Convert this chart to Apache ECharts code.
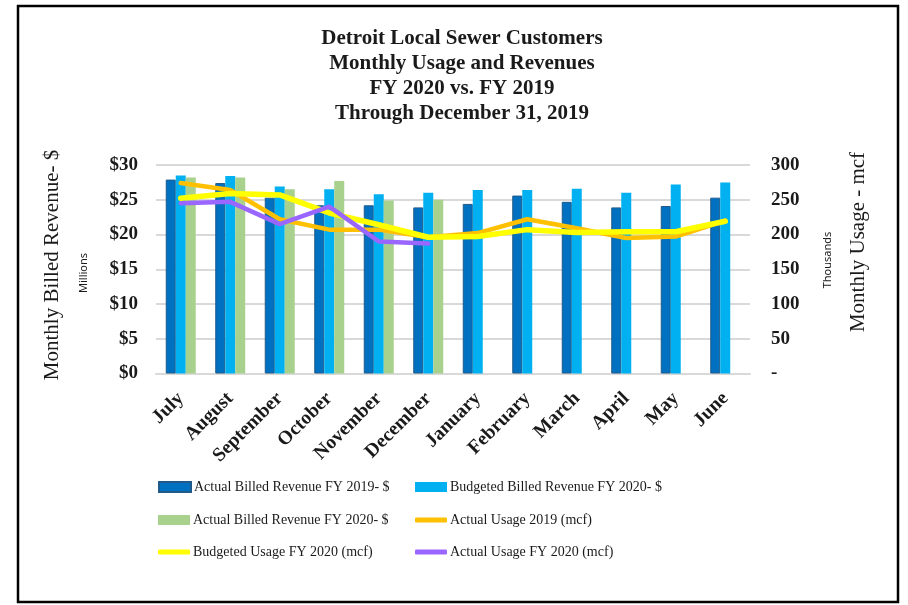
<!DOCTYPE html>
<html>
<head>
<meta charset="utf-8">
<script src="https://cdn.jsdelivr.net/npm/echarts@6/dist/echarts.min.js"></script>
<style>
  html, body { margin: 0; padding: 0; background: #fff; }
  #chart { width: 908px; height: 605px; }
</style>
</head>
<body>
<div id="chart"></div>
<script>
// 月份（财年 7 月起）
const months = ['July', 'August', 'September', 'October', 'November', 'December',
  'January', 'February', 'March', 'April', 'May', 'June']

// 收入，单位：百万美元
const actualRevenue2019 = [27.9, 27.4, 25.3, 24.2, 24.2, 23.9, 24.4, 25.6, 24.7, 23.9, 24.1, 25.3]
const budgetRevenue2020 = [28.5, 28.4, 26.9, 26.5, 25.8, 26.0, 26.4, 26.4, 26.6, 26.0, 27.2, 27.5]
const actualRevenue2020 = [28.2, 28.2, 26.5, 27.7, 24.9, 25.0, null, null, null, null, null, null]

// 用量，单位：千 mcf
const actualUsage2019 = [274, 264, 222, 207, 207, 196, 202, 222, 209, 195, 197, 220]
const budgetUsage2020 = [252, 259, 257, 231, 214, 196, 197, 207, 203, 204, 204, 219]
const actualUsage2020 = [245, 247, 215, 240, 190, 187, null, null, null, null, null, null]

// 刻度
const revenueTicks = { min: 0, max: 30, interval: 5 }
const usageTicks = { min: 0, max: 300, interval: 50 }

const serif = '"Liberation Serif", "DejaVu Serif", serif'
const ink = '#1a1a1a'

const names = [
  'Actual Billed Revenue FY 2019- $',
  'Budgeted Billed Revenue FY 2020- $',
  'Actual Billed Revenue FY 2020- $',
  'Actual Usage 2019 (mcf)',
  'Budgeted Usage FY 2020 (mcf)',
  'Actual Usage FY 2020 (mcf)'
]

// 每个图例单独定位，排成两列三行
const legendSlots = [
  { left: 153, top: 475 }, { left: 410, top: 475 },
  { left: 153, top: 508 }, { left: 410, top: 508 },
  { left: 153, top: 540 }, { left: 410, top: 540 }
]
const legends = names.map((name, i) => ({
  data: [name],
  left: legendSlots[i].left,
  top: legendSlots[i].top,
  icon: i < 3 ? 'rect' : 'roundRect',
  itemWidth: 32,
  itemHeight: i < 3 ? 10 : 5,
  itemGap: 0,
  selectedMode: false,
  textStyle: { fontFamily: serif, fontSize: 14, color: ink, padding: [0, 0, 0, -2] }
}))

const barSeries = (name, data, color, border) => ({
  name,
  type: 'bar',
  data,
  barWidth: 10,
  barGap: '0%',
  itemStyle: { color, borderColor: border || color, borderWidth: border ? 1 : 0 },
  emphasis: { disabled: true }
})

const lineSeries = (name, data, color, width) => ({
  name,
  type: 'line',
  yAxisIndex: 1,
  data,
  symbol: 'none',
  connectNulls: false,
  lineStyle: { color, width, cap: 'round', join: 'round' },
  itemStyle: { color },
  z: 3
})

const option = {
  animation: false,
  backgroundColor: '#fff',
  title: {
    text: 'Detroit Local Sewer Customers\nMonthly Usage and Revenues\nFY 2020 vs. FY 2019\nThrough December 31, 2019',
    left: 457,
    top: 21,
    textAlign: 'center',
    textStyle: { fontFamily: serif, fontWeight: 'bold', fontSize: 21, lineHeight: 25, color: ink }
  },
  legend: legends,
  grid: { left: 156, right: 158, top: 165, bottom: 231.5 },
  xAxis: {
    type: 'category',
    data: months,
    axisLine: { lineStyle: { color: '#d9d9d9', width: 2 } },
    axisTick: { show: false },
    axisLabel: {
      rotate: 45,
      interval: 0,
      margin: 22,
      fontFamily: serif,
      fontWeight: 'bold',
      fontSize: 19.5,
      color: ink
    }
  },
  yAxis: [
    {
      type: 'value',
      ...revenueTicks,
      axisLine: { show: false },
      axisTick: { show: false },
      splitLine: { lineStyle: { color: '#d9d9d9', width: 2 } },
      axisLabel: {
        margin: 18,
        fontFamily: serif,
        fontWeight: 'bold',
        fontSize: 19,
        color: ink,
        formatter: v => '$' + v
      }
    },
    {
      type: 'value',
      ...usageTicks,
      axisLine: { show: false },
      axisTick: { show: false },
      splitLine: { show: false },
      axisLabel: {
        margin: 21,
        fontFamily: serif,
        fontWeight: 'bold',
        fontSize: 19,
        color: ink,
        formatter: v => (v === 0 ? '-' : String(v))
      }
    }
  ],
  series: [
    barSeries(names[0], actualRevenue2019, '#0070c0', '#1f5a8a'),
    barSeries(names[1], budgetRevenue2020, '#00b0f0'),
    barSeries(names[2], actualRevenue2020, '#a9d18e'),
    lineSeries(names[3], actualUsage2019, '#ffc000', 4.5),
    lineSeries(names[4], budgetUsage2020, '#ffff00', 5.5),
    lineSeries(names[5], actualUsage2020, '#9966ff', 4.5)
  ],
  graphic: [
    {
      type: 'rect',
      shape: { x: 18, y: 6, width: 880, height: 596 },
      style: { fill: 'none', stroke: '#000', lineWidth: 2.5 },
      silent: true
    },
    {
      type: 'text',
      x: 52, y: 265, rotation: Math.PI / 2,
      style: { text: 'Monthly Billed Revenue- $', font: '21px ' + serif, fill: ink, align: 'center', verticalAlign: 'middle' }
    },
    {
      type: 'text',
      x: 84, y: 273, rotation: Math.PI / 2,
      style: { text: 'Millions', font: '11px "Noto Sans", sans-serif', fill: ink, align: 'center', verticalAlign: 'middle' }
    },
    {
      type: 'text',
      x: 828, y: 260, rotation: Math.PI / 2,
      style: { text: 'Thousands', font: '11px "Noto Sans", sans-serif', fill: ink, align: 'center', verticalAlign: 'middle' }
    },
    {
      type: 'text',
      x: 858, y: 242, rotation: Math.PI / 2,
      style: { text: 'Monthly Usage - mcf', font: '21px ' + serif, fill: ink, align: 'center', verticalAlign: 'middle' }
    }
  ]
}

const chart = echarts.init(document.getElementById('chart'))
chart.setOption(option)
</script>
</body>
</html>
